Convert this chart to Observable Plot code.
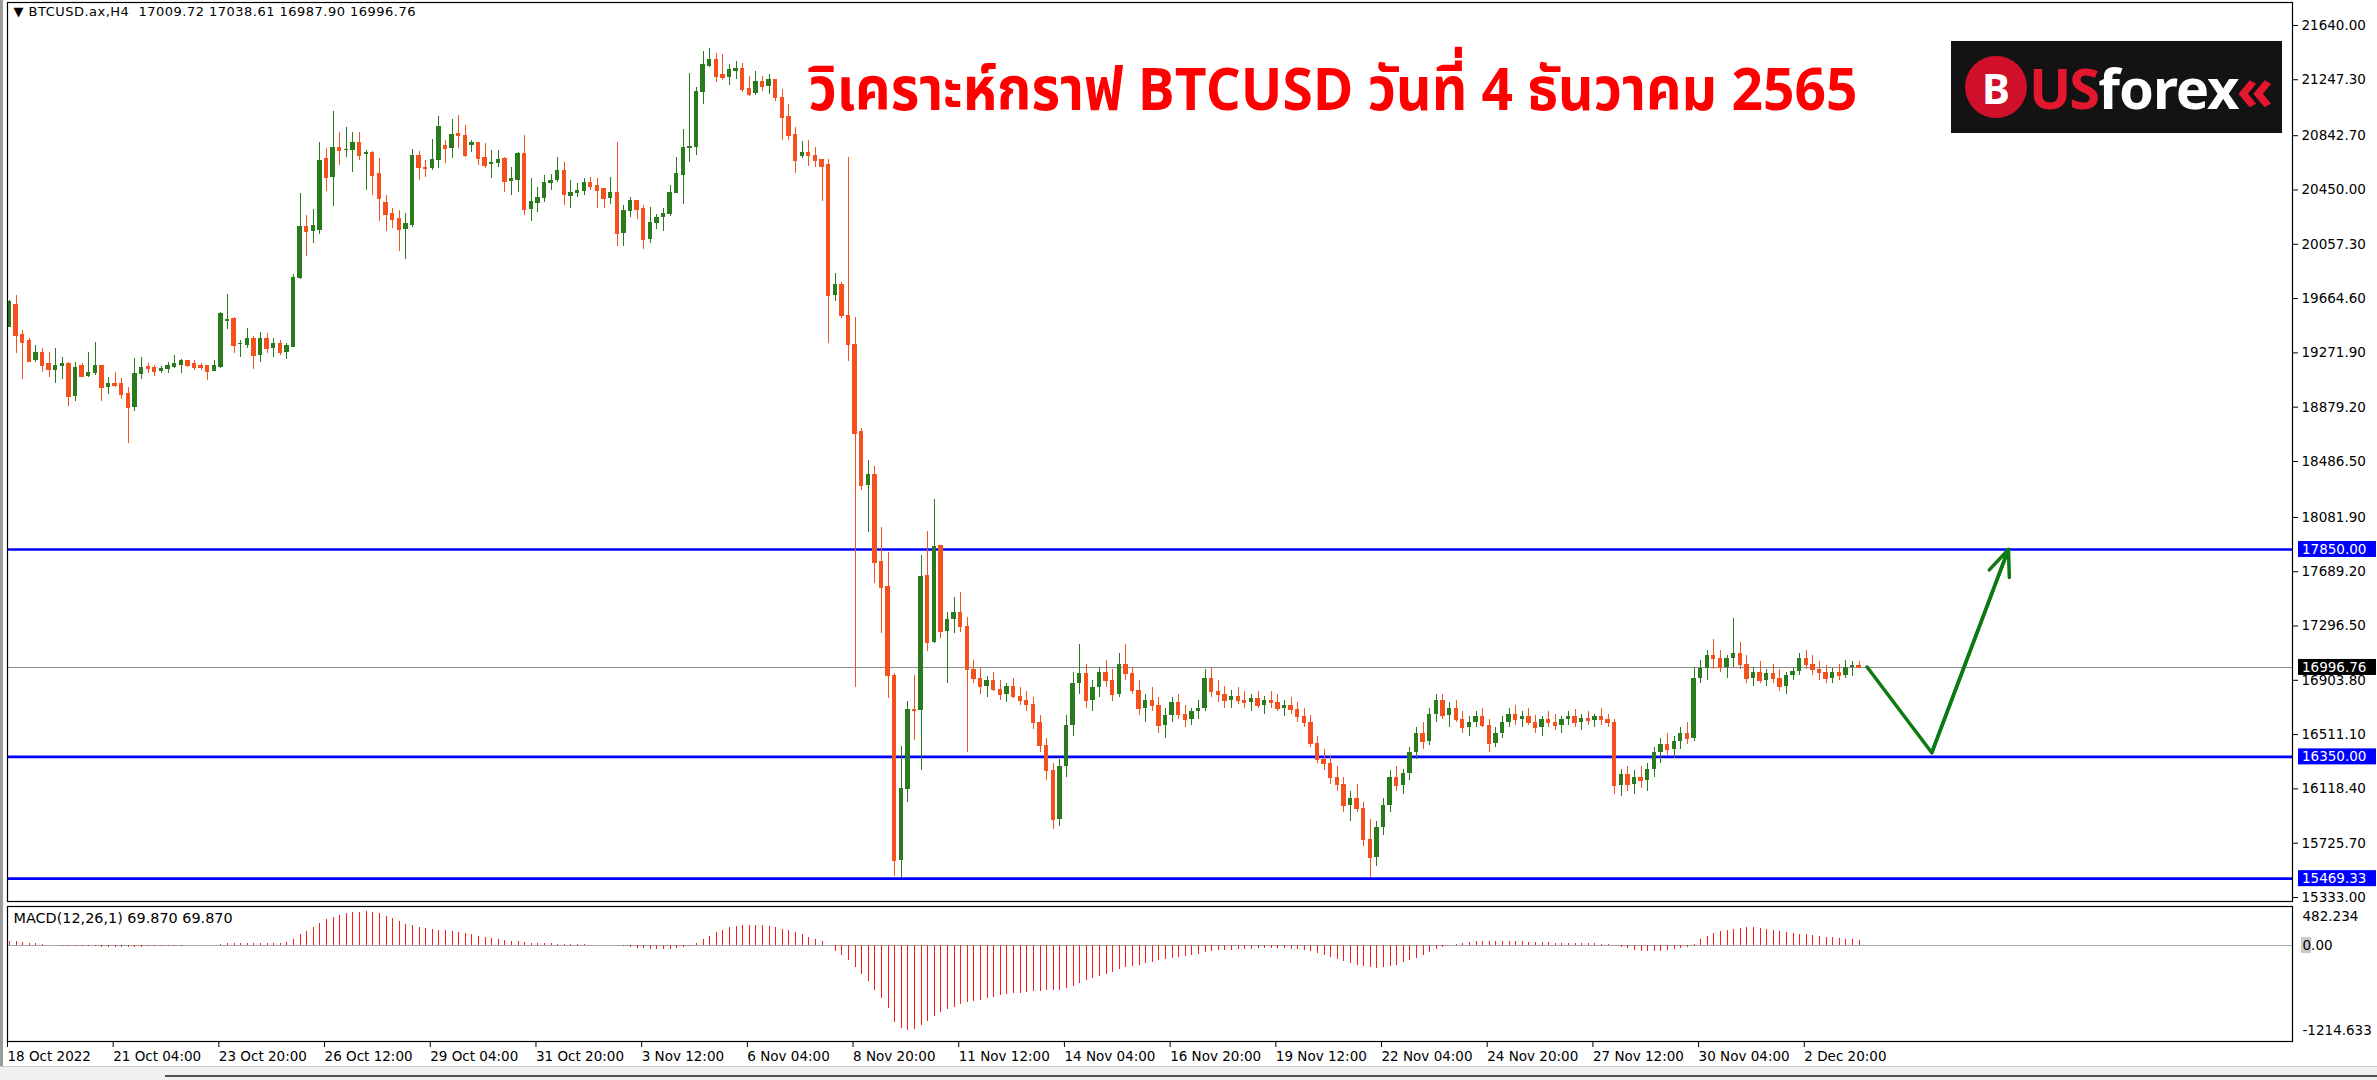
<!DOCTYPE html>
<html><head><meta charset="utf-8">
<script src="https://cdn.jsdelivr.net/npm/d3@7"></script>
<script src="https://cdn.jsdelivr.net/npm/@observablehq/plot@0.6"></script>
<style>
html,body{margin:0;padding:0;background:#fff;}
#wrap{position:relative;width:2377px;height:1080px;overflow:hidden;background:#fff;}
#wrap svg{display:block;}
#logo{position:absolute;left:1951px;top:41px;width:331px;height:92px;background:#131313;display:flex;align-items:center;font-family:"Noto Sans","DejaVu Sans",sans-serif;font-weight:bold;}
#logo .b{width:62px;height:62px;border-radius:50%;background:#d0102a;color:#fff;display:flex;align-items:center;justify-content:center;font-size:42px;margin-left:14px;}
#logo .us{color:#e3172d;font-size:56px;margin-left:2px;letter-spacing:-2px;}
#logo .fx{color:#fff;font-size:56px;letter-spacing:-1px;}
#logo .ch{color:#e3172d;font-size:60px;margin-left:-2px;}
#bottom{position:absolute;left:0;top:1066px;width:2377px;height:14px;background:#f0f0f0;border-top:1px solid #c8c8c8;}
#bottomline{position:absolute;left:165px;top:1075px;width:2212px;height:2px;background:#505050;}
#leftedge{position:absolute;left:0;top:0;width:3px;height:1066px;background:#9a9a9a;}
</style></head>
<body><div id="wrap"></div>
<script>
// ---- data ----
const openP = [19458,19622,19405,19362,19217,19277,19193,19145,19174,19198,18957,19181,19101,19121,19181,19019,19048,19048,18976,18875,19116,19174,19169,19137,19149,19169,19181,19217,19193,19181,19181,19137,19169,19499,19518,19330,19326,19374,19253,19374,19306,19338,19277,19313,19808,20186,20152,20160,20676,20538,20755,20736,20736,20791,20704,20724,20567,20362,20278,20242,20162,20193,20700,20615,20603,20664,20772,20748,20856,20844,20772,20791,20688,20632,20639,20676,20512,20519,20712,20307,20355,20386,20495,20519,20591,20403,20427,20439,20507,20483,20458,20391,20434,20138,20295,20374,20314,20090,20210,20249,20273,20427,20555,20748,20760,21158,21343,21392,21283,21266,21310,21331,21187,21146,21235,21201,21249,21117,20984,20852,20690,20723,20696,20672,20631,19689,19767,19545,19334,18702,18310,18392,17760,17583,16941,15603,16115,16696,16685,17661,17180,17880,17259,17344,
17395,17293,16980,16920,16860,16900,16840,16800,16860,16790,16760,16730,16600,16430,16250,15900,16280,16580,16880,16950,16760,16850,16960,16900,16800,17020,16950,16830,16700,16760,16720,16580,16650,16740,16660,16620,16680,16700,16920,16820,16800,16760,16790,16760,16740,16770,16720,16760,16740,16700,16720,16690,16640,16600,16450,16330,16300,16200,16150,16000,16050,15980,15750,15620,15840,16000,16200,16140,16230,16380,16520,16460,16660,16760,16650,16700,16620,16560,16600,16640,16580,16450,16520,16600,16660,16620,16640,16600,16560,16620,16600,16580,16620,16640,16600,16630,16610,16640,16620,16600,16140,16220,16150,16200,16180,16260,16380,16440,16400,16460,16520,16480,16920,16990,17080,17060,17000,17060,17100,17020,16920,16960,16900,16950,16920,16860,16940,16970,17060,17020,16980,16960,16920,16960,16940,17000,17009.72];
const highP = [19651,19687,19434,19374,19325,19301,19277,19301,19241,19203,19200,19193,19277,19350,19181,19096,19133,19084,19024,19229,19241,19193,19181,19174,19205,19253,19222,19217,19217,19198,19181,19217,19567,19694,19526,19362,19446,19391,19422,19410,19374,19362,19338,19839,20422,20266,20307,20796,20748,21020,20864,20900,20864,20864,20736,20731,20676,20410,20314,20302,20278,20743,20731,20664,20815,20984,20808,20960,20989,20917,20808,20791,20784,20736,20736,20688,20615,20724,20844,20531,20471,20555,20562,20688,20651,20519,20495,20531,20543,20531,20458,20543,20791,20338,20398,20374,20338,20326,20273,20314,20483,20683,20885,21295,21194,21452,21471,21435,21428,21355,21380,21368,21271,21307,21271,21286,21249,21175,21069,20905,20800,20808,20760,20672,20672,19846,19784,20682,19528,18726,18494,18453,18010,17829,16952,16423,16754,16941,17805,17982,18208,17880,17395,17504,
17539,17360,17050,16990,16930,16960,16900,16880,16920,16850,16820,16780,16650,16480,16300,16330,16650,16960,17160,17020,16900,17000,17050,16980,17100,17160,17000,16900,16800,16850,16780,16700,16780,16800,16720,16700,16760,16980,17000,16900,16860,16830,16850,16820,16800,16820,16790,16820,16800,16760,16780,16740,16700,16650,16500,16400,16350,16280,16200,16100,16150,16020,15900,15880,16050,16250,16280,16260,16420,16560,16600,16700,16800,16800,16740,16760,16680,16640,16680,16700,16620,16560,16640,16700,16720,16680,16700,16650,16640,16680,16660,16640,16680,16690,16660,16680,16660,16700,16660,16620,16260,16280,16250,16280,16300,16420,16480,16520,16500,16560,16600,17000,17050,17120,17200,17120,17080,17350,17180,17080,17000,17040,16980,17020,16980,16960,17000,17100,17120,17080,17040,17010,16990,17020,17050,17040,17038.61];
const lowP = [19453,19265,19077,19205,19205,19133,19096,19053,19077,18884,18923,19092,19092,19108,18923,18971,19019,18932,18614,18851,19077,19125,19101,19121,19125,19157,19125,19169,19145,19145,19072,19137,19157,19439,19265,19241,19301,19150,19205,19265,19241,19253,19222,19313,19801,19969,20066,20128,20442,20331,20627,20688,20579,20664,20446,20410,20225,20152,20169,20008,19945,20176,20519,20538,20591,20603,20639,20676,20748,20688,20724,20627,20603,20531,20615,20434,20410,20434,20266,20222,20290,20362,20446,20507,20338,20319,20398,20410,20446,20319,20319,20343,20044,20044,20254,20234,20017,20066,20162,20150,20258,20427,20343,20651,20700,21069,21339,21225,21242,21206,21249,21158,21129,21134,21163,21138,21093,20808,20808,20572,20680,20620,20610,20365,19341,19641,19518,19211,16849,18276,17975,17607,17242,16774,15484,15469,16023,16467,16252,17112,17173,17207,16883,17242,
17250,16380,16880,16800,16780,16820,16760,16740,16770,16720,16680,16550,16380,16180,15823,15850,16200,16500,16800,16700,16680,16780,16850,16750,16780,16900,16800,16650,16600,16680,16520,16480,16600,16620,16560,16580,16620,16680,16780,16740,16700,16700,16730,16700,16680,16700,16660,16700,16680,16640,16660,16600,16560,16420,16300,16250,16150,16100,15950,15880,15950,15700,15480,15560,15780,15950,16100,16080,16180,16330,16400,16430,16600,16620,16560,16600,16520,16500,16560,16560,16380,16420,16480,16560,16580,16560,16580,16520,16500,16560,16540,16520,16580,16560,16540,16580,16560,16580,16560,16080,16060,16100,16080,16120,16100,16200,16300,16360,16340,16400,16440,16460,16880,16900,16980,16960,16920,17000,16980,16880,16860,16880,16860,16880,16820,16800,16900,16940,16980,16940,16900,16880,16880,16900,16920,16930,16987.90];
const closeP = [19646,19398,19350,19212,19272,19181,19150,19181,19193,18957,19169,19101,19133,19181,19019,19048,19036,18971,18875,19121,19169,19157,19140,19162,19181,19193,19217,19181,19164,19169,19137,19181,19559,19511,19326,19342,19374,19253,19374,19306,19338,19277,19326,19815,20186,20152,20193,20664,20538,20755,20736,20745,20791,20700,20724,20555,20391,20271,20234,20162,20205,20700,20615,20603,20673,20912,20748,20852,20844,20700,20796,20680,20627,20651,20673,20512,20531,20712,20307,20367,20398,20507,20519,20591,20415,20434,20446,20507,20475,20446,20391,20434,20138,20302,20374,20307,20090,20217,20254,20278,20434,20567,20755,20765,21165,21355,21392,21274,21266,21319,21331,21175,21138,21235,21201,21249,21117,20977,20844,20664,20720,20696,20665,20620,19689,19767,19545,19334,18692,18310,18392,17754,17573,16941,15603,16122,16696,16685,17651,17180,17873,17259,17344,17395,
17293,16980,16920,16860,16900,16840,16800,16860,16790,16760,16730,16600,16430,16250,15900,16280,16580,16880,16950,16760,16850,16960,16900,16800,17020,16950,16830,16700,16760,16720,16580,16650,16740,16660,16620,16680,16700,16920,16820,16800,16760,16790,16760,16740,16770,16720,16760,16740,16700,16720,16690,16640,16600,16450,16330,16300,16200,16150,16000,16050,15980,15750,15620,15840,16000,16200,16140,16230,16380,16520,16460,16660,16760,16650,16700,16620,16560,16600,16640,16580,16450,16520,16600,16660,16620,16640,16600,16560,16620,16600,16580,16620,16640,16600,16630,16610,16640,16620,16600,16140,16220,16150,16200,16180,16260,16380,16440,16400,16460,16520,16480,16920,16990,17080,17060,17000,17060,17100,17020,16920,16960,16900,16950,16920,16860,16940,16970,17060,17020,16980,16960,16920,16960,16940,17000,17009.72,16996.76];
const macdVals = [60,55,45,35,25,15,5,-5,-10,-15,-20,-20,-20,-20,-25,-25,-25,-25,-30,-30,-25,-20,-20,-15,-15,-10,-10,-5,-5,0,0,5,20,25,30,30,35,35,35,35,35,35,40,80,150,200,250,320,370,400,430,450,465,475,482,470,450,420,380,340,300,280,260,240,230,220,210,195,180,165,150,130,115,100,85,70,60,50,40,35,30,25,25,20,20,15,10,10,5,5,0,0,-5,-20,-30,-40,-50,-55,-60,-60,-55,-45,-30,-10,30,80,130,180,220,250,270,280,285,285,280,270,255,235,210,180,150,120,90,60,0,-80,-150,-220,-320,-420,-520,-640,-760,-900,-1100,-1180,-1214,-1200,-1150,-1080,-1020,-960,-920,-880,
-850,-820,-800,-780,-760,-740,-720,-700,-690,-680,-670,-660,-660,-650,-640,-640,-620,-580,-540,-500,-470,-440,-410,-380,-350,-320,-300,-280,-260,-240,-220,-200,-185,-170,-155,-140,-125,-100,-85,-75,-70,-65,-60,-55,-55,-50,-50,-50,-50,-50,-55,-60,-70,-85,-110,-140,-170,-200,-230,-260,-280,-300,-320,-330,-320,-300,-280,-250,-215,-180,-140,-100,-60,-25,0,20,35,45,50,55,55,50,50,50,50,50,45,45,40,40,35,35,30,30,30,25,25,20,20,0,-30,-50,-70,-80,-85,-85,-80,-70,-55,-40,-25,20,80,130,170,200,220,235,245,250,250,245,230,215,200,185,170,160,150,140,130,120,110,100,90,80,70];
const timeLabels = ["18 Oct 2022","21 Oct 04:00","23 Oct 20:00","26 Oct 12:00","29 Oct 04:00","31 Oct 20:00","3 Nov 12:00","6 Nov 04:00","8 Nov 20:00","11 Nov 12:00","14 Nov 04:00","16 Nov 20:00","19 Nov 12:00","22 Nov 04:00","24 Nov 20:00","27 Nov 12:00","30 Nov 04:00","2 Dec 20:00"];
const timeTickBars = [0,16,32,48,64,80,96,112,128,144,160,176,192,208,224,240,256,272];
const priceTicks = [21640.00,21247.30,20842.70,20450.00,20057.30,19664.60,19271.90,18879.20,18486.50,18081.90,17689.20,17296.50,16903.80,16511.10,16118.40,15725.70,15333.00];
const levels = [17850.00,16350.00,15469.33];
const bidPrice = 16996.76;
const macdTicks = [482.234,0,-1214.633];
const macdTickLabels = ["482.234","0.00","-1214.633"];
const arrowBars = [281.2,291,302.6];
const arrowPrices = [17000,16380,17850];
const headerText = "▼ BTCUSD.ax,H4  17009.72 17038.61 16987.90 16996.76";
const macdHeader = "MACD(12,26,1) 69.870 69.870";
const titleText = "วิเคราะห์กราฟ BTCUSD วันที่ 4 ธันวาคม 2565";

// ---- build ----
const UP = "#2a7b1e", DN = "#f4511e", ARROW = "#0d7a12";
const candles = openP.map((o, i) => ({i, o, h: highP[i], l: lowP[i], c: closeP[i], col: closeP[i] >= o ? UP : DN}));
const macdData = macdVals.map((v, i) => ({i, v}));
const arrowPts = arrowBars.map((b, k) => ({b, p: arrowPrices[k]}));
const macdLab = macdTicks.map((v, k) => ({v, t: macdTickLabels[k]}));
const xDomain = [-0.3, 345.6];
const font = {fontFamily: "DejaVu Sans, sans-serif", fontSize: "13.5px", background: "transparent", overflow: "visible"};
const crisp = {shapeRendering: "crispEdges"};

const main = Plot.plot({
  width: 2377, height: 905, marginTop: 2, marginBottom: 4, marginLeft: 7, marginRight: 85,
  x: {domain: xDomain, axis: null},
  y: {domain: [15304, 21806], axis: null},
  style: font,
  marks: [
    Plot.ruleY([bidPrice], {stroke: "#8c8c8c", strokeWidth: 1, ...crisp}),
    Plot.ruleY(levels, {stroke: "#0000ff", strokeWidth: 2.6}),
    Plot.ruleX(candles, {x: "i", y1: "l", y2: "h", stroke: "col", strokeWidth: 1, ...crisp}),
    Plot.rect(candles, {x1: d => d.i - 0.33, x2: d => d.i + 0.33, y1: d => Math.min(d.o, d.c), y2: d => Math.max(d.o, d.c), fill: "col", ...crisp}),
    Plot.ruleY(candles, {y: "c", x1: d => d.i - 0.33, x2: d => d.i + 0.33, stroke: "col", strokeWidth: 1, ...crisp}),
    Plot.line(arrowPts, {x: "b", y: "p", stroke: ARROW, strokeWidth: 3.5}),
    Plot.arrow([arrowPts], {x1: d => d[1].b, y1: d => d[1].p, x2: d => d[2].b, y2: d => d[2].p, stroke: ARROW, strokeWidth: 3.5, headLength: 12, headAngle: 45}),
    Plot.frame({stroke: "#000", strokeWidth: 1.2}),
    Plot.axisY({anchor: "right", label: null, ticks: priceTicks, tickFormat: d3.format(".2f"), tickSize: 5, tickPadding: 4, stroke: "#000", fill: "#000"}),
    Plot.text([headerText], {text: d => d, frameAnchor: "top-left", dx: 6, dy: 9, lineAnchor: "middle", textAnchor: "start", fill: "#000", fontSize: 13, className: "hdr"}),
    Plot.text([titleText], {text: d => d, frameAnchor: "top", dx: 183, dy: 88, lineAnchor: "middle", textAnchor: "middle", fill: "#ff0000", fontSize: 60, fontWeight: "bold", fontFamily: "Noto Sans Thai, Noto Sans, Tahoma, DejaVu Sans, sans-serif", className: "ttl"})
  ]
});
// condense / stretch texts to the reference's widths
d3.select(main).selectAll(".ttl text").attr("textLength", 1049).attr("lengthAdjust", "spacingAndGlyphs");
d3.select(main).selectAll(".hdr text").attr("textLength", 402).attr("lengthAdjust", "spacing");

// right-side price label boxes
const ys = main.scale("y");
const svgM = d3.select(main);
const boxes = levels.map(v => ({v, bg: "#0000ff"})).concat([{v: bidPrice, bg: "#000000"}]);
for (const b of boxes) {
  const y = ys.apply(b.v);
  svgM.append("rect").attr("x", 2298).attr("y", y - 8).attr("width", 78).attr("height", 16).attr("fill", b.bg);
  svgM.append("text").attr("x", 2302).attr("y", y).attr("dy", "0.35em").attr("fill", "#fff")
    .attr("text-anchor", "start").attr("font-family", "DejaVu Sans").attr("font-size", 13.5).text(d3.format(".2f")(b.v));
}

const sub = Plot.plot({
  width: 2377, height: 175, marginTop: 1, marginBottom: 39, marginLeft: 7, marginRight: 85,
  x: {domain: xDomain, axis: null},
  y: {domain: [-1372, 557], axis: null},
  style: font,
  marks: [
    Plot.ruleY([0], {stroke: "#a6a6a6", strokeWidth: 1, ...crisp}),
    Plot.ruleX(macdData, {x: "i", y1: 0, y2: "v", stroke: "#ff1a1a", strokeWidth: 1, ...crisp}),
    Plot.frame({stroke: "#000", strokeWidth: 1.2}),
    Plot.axisX({ticks: timeTickBars, label: null, tickFormat: d => timeLabels[timeTickBars.indexOf(d)], tickSize: 6, tickPadding: 4, textAnchor: "start", dx: -2, stroke: "#000", fill: "#000"}),
    Plot.text(macdLab.filter(d => d.v > 0), {y: "v", text: "t", frameAnchor: "right", dx: 10, dy: 5, textAnchor: "start", fill: "#000"}),
    Plot.text(macdLab.filter(d => d.v <= 0), {y: "v", text: "t", frameAnchor: "right", dx: 10, textAnchor: "start", fill: "#000"}),
    Plot.text([macdHeader], {text: d => d, frameAnchor: "top-left", dx: 6, dy: 12, lineAnchor: "middle", textAnchor: "start", fill: "#000", fontSize: 14.4})
  ]
});
// grey highlight behind the zero label, as in the reference
const yz = sub.scale("y").apply(0);
d3.select(sub).insert("rect", ":first-child").attr("x", 2301).attr("y", yz - 8).attr("width", 10).attr("height", 16).attr("fill", "#c9c9c9");

const wrap = document.getElementById("wrap");
wrap.appendChild(main);
wrap.appendChild(sub);
const logo = document.createElement("div");
logo.id = "logo";
logo.innerHTML = '<span class="b">B</span><span class="us">US</span><span class="fx">forex</span><span class="ch">«</span>';
wrap.appendChild(logo);
const bottom = document.createElement("div"); bottom.id = "bottom"; wrap.appendChild(bottom);
const bl = document.createElement("div"); bl.id = "bottomline"; wrap.appendChild(bl);
const le = document.createElement("div"); le.id = "leftedge"; wrap.appendChild(le);
</script></body></html>
